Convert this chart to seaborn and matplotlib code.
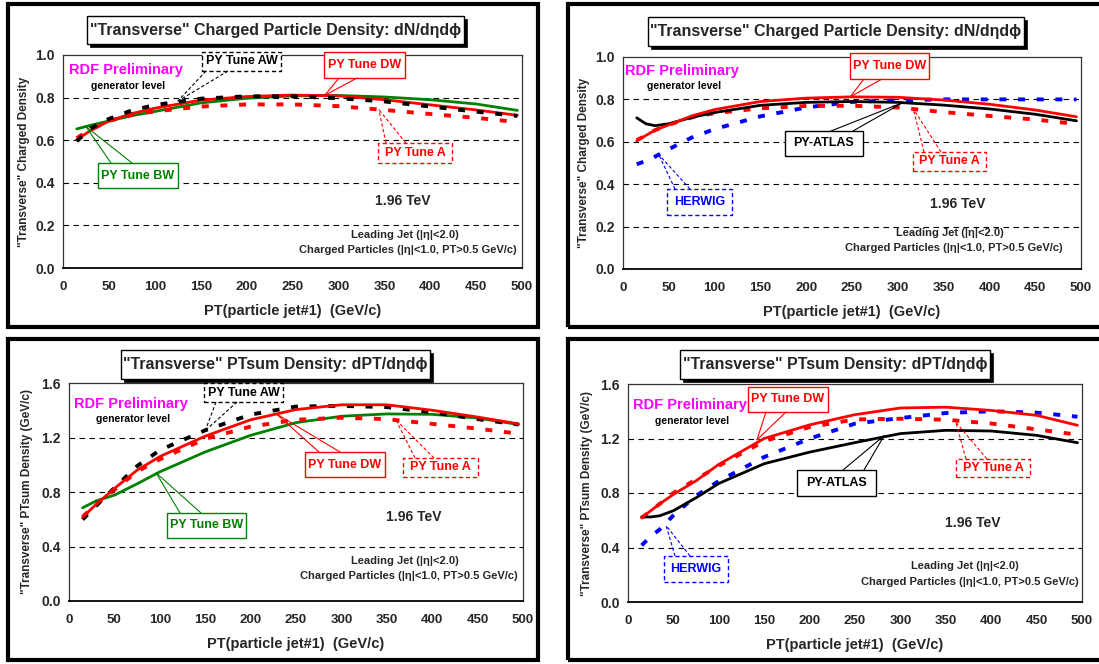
import matplotlib
matplotlib.use("Agg")
import matplotlib.pyplot as plt
import matplotlib.patches as mpatches
from matplotlib.lines import Line2D
import seaborn as sns

W, H = 1099, 664

# ===== DATA =====
# top-left: charged density, PY tunes
pt1 = [15, 30, 50, 75, 100, 150, 200, 250, 300, 350, 400, 450, 495]
tl_aw = [0.595, 0.655, 0.700, 0.740, 0.765, 0.795, 0.806, 0.806, 0.797, 0.782, 0.758, 0.734, 0.714]
tl_dw = [0.603, 0.645, 0.690, 0.725, 0.750, 0.788, 0.805, 0.812, 0.808, 0.790, 0.766, 0.742, 0.717]
tl_bw = [0.653, 0.670, 0.690, 0.715, 0.735, 0.775, 0.797, 0.808, 0.810, 0.803, 0.790, 0.770, 0.740]
tl_a = [0.610, 0.650, 0.690, 0.720, 0.735, 0.758, 0.768, 0.768, 0.760, 0.742, 0.723, 0.705, 0.685]

# top-right: charged density, DW / ATLAS / HERWIG / A
pt2 = [15, 25, 35, 50, 75, 100, 150, 200, 250, 300, 350, 400, 450, 495]
tr_dw = [0.605, 0.630, 0.655, 0.680, 0.722, 0.752, 0.790, 0.806, 0.812, 0.810, 0.797, 0.777, 0.750, 0.718]
tr_atlas = [0.713, 0.685, 0.676, 0.685, 0.715, 0.738, 0.772, 0.786, 0.790, 0.786, 0.773, 0.755, 0.730, 0.699]
tr_herwig = [0.494, 0.510, 0.530, 0.565, 0.620, 0.660, 0.720, 0.762, 0.788, 0.796, 0.800, 0.800, 0.800, 0.800]
tr_a = [0.608, 0.630, 0.655, 0.680, 0.715, 0.735, 0.758, 0.769, 0.770, 0.762, 0.740, 0.722, 0.705, 0.684]

# bottom-left: PTsum density, PY tunes
pt3 = [15, 30, 50, 75, 100, 150, 200, 250, 300, 350, 400, 450, 495]
bl_aw = [0.598, 0.700, 0.830, 0.990, 1.107, 1.253, 1.368, 1.427, 1.432, 1.423, 1.385, 1.335, 1.295]
bl_dw = [0.615, 0.710, 0.826, 0.960, 1.060, 1.210, 1.330, 1.405, 1.440, 1.440, 1.400, 1.350, 1.300]
bl_bw = [0.684, 0.735, 0.777, 0.860, 0.948, 1.094, 1.216, 1.309, 1.356, 1.373, 1.370, 1.343, 1.295]
bl_a = [0.618, 0.710, 0.815, 0.950, 1.040, 1.190, 1.280, 1.330, 1.345, 1.335, 1.300, 1.265, 1.228]

# bottom-right: PTsum density, DW / ATLAS / HERWIG / A
pt4 = [15, 25, 35, 50, 75, 100, 150, 200, 250, 300, 350, 400, 450, 495]
br_dw = [0.617, 0.670, 0.720, 0.790, 0.890, 1.010, 1.200, 1.300, 1.375, 1.424, 1.430, 1.406, 1.370, 1.297]
br_atlas = [0.624, 0.624, 0.633, 0.670, 0.765, 0.870, 1.015, 1.100, 1.170, 1.236, 1.260, 1.255, 1.223, 1.169]
br_herwig = [0.416, 0.480, 0.533, 0.636, 0.780, 0.888, 1.064, 1.199, 1.309, 1.350, 1.387, 1.400, 1.390, 1.360]
br_a = [0.617, 0.670, 0.720, 0.800, 0.900, 1.000, 1.180, 1.284, 1.340, 1.345, 1.338, 1.310, 1.267, 1.228]

xticks = [0, 50, 100, 150, 200, 250, 300, 350, 400, 450, 500]
yticks_n = [0.0, 0.2, 0.4, 0.6, 0.8, 1.0]
yticks_pt = [0.0, 0.4, 0.8, 1.2, 1.6]

title_n = '"Transverse" Charged Particle Density: dN/dηdϕ'
title_pt = '"Transverse" PTsum Density: dPT/dηdϕ'
ylab_n = '"Transverse" Charged Density'
ylab_pt = '"Transverse" PTsum Density (GeV/c)'
xlab = 'PT(particle jet#1)  (GeV/c)'

RED, GREEN, BLUE, MAG = "#ff0000", "#008000", "#0000ff", "#ff00ff"

# ===== STYLE =====
sns.set_style("white")
plt.rcParams["font.family"] = ["Liberation Sans", "DejaVu Sans"]
plt.rcParams["font.weight"] = "bold"

fig = plt.figure(figsize=(W / 100, H / 100), dpi=100)


def fx(x):
    return x / W


def fy(y):
    return 1 - y / H


def rect(x0, y0, x1, y1, ec="black", lw=1.0, ls="-", fc="white", z=5):
    r = mpatches.Rectangle((fx(x0), fy(y1)), (x1 - x0) / W, (y1 - y0) / H,
                           transform=fig.transFigure, fc=fc, ec=ec, lw=lw,
                           ls=ls, zorder=z)
    fig.add_artist(r)


def make_axes(x0, x1, ytop, ybot, ymax, yticks, ylab, ylab_x):
    ax = fig.add_axes([fx(x0), fy(ybot), (x1 - x0) / W, (ybot - ytop) / H])
    ax.set_xlim(0, 500)
    ax.set_ylim(0, ymax)
    ax.set_xticks(xticks)
    ax.set_yticks(yticks)
    ax.set_yticklabels([f"{v:.1f}" for v in yticks])
    ax.tick_params(axis="x", direction="inout", length=7, width=1, labelsize=9.5, pad=6)
    ax.tick_params(axis="y", direction="out", length=4, width=1, labelsize=10, pad=2)
    for lab in ax.get_xticklabels() + ax.get_yticklabels():
        lab.set_fontweight("bold")
    for v in yticks[1:-1]:
        ax.axhline(v, color="black", lw=0.8, ls=(0, (5, 4)), zorder=1)
    for s in ["top", "right", "left"]:
        ax.spines[s].set_color("#333333")
        ax.spines[s].set_linewidth(0.9)
    ax.spines["bottom"].set_color("black")
    ax.spines["bottom"].set_linewidth(1.3)
    ax.set_xlabel(xlab, fontsize=10.5, fontweight="bold", labelpad=8)
    ax.set_ylabel("")
    fig.text(fx(ylab_x), (fy(ytop) + fy(ybot)) / 2, ylab, rotation=90,
             ha="center", va="center", fontsize=8.5, fontweight="bold")
    return ax


def curve(ax, x, y, color, dashed=False):
    sns.lineplot(x=x, y=y, ax=ax, color=color, lw=2.8 if dashed else 2.0, zorder=3)
    line = ax.lines[-1]
    if dashed:
        line.set_dashes((1.8, 3.0))
        line.set_dash_capstyle("butt")


def callout(ax, box, label, color, ls, anchor, bases):
    x0, y0, x1, y1 = box
    rect(x0, y0, x1, y1, ec=color, lw=1.0, ls=(0, (3, 2)) if ls == "--" else "-", z=6)
    fig.text(fx((x0 + x1) / 2), fy((y0 + y1) / 2), label, ha="center", va="center",
             color=color, fontsize=9, fontweight="bold", zorder=7)
    px, py = ax.transData.transform(anchor)
    ax_f = fig.transFigure.inverted().transform((px, py))
    for bx, by in bases:
        fig.add_artist(Line2D([fx(bx), ax_f[0]], [fy(by), ax_f[1]], transform=fig.transFigure,
                              color=color, lw=0.8, ls=(0, (3, 2)) if ls == "--" else "-", zorder=6))


def title_box(x0, y0, x1, y1, text):
    rect(x0 + 3, y0 + 3, x1 + 3, y1 + 3, ec="black", fc="black", lw=0.5, z=4)
    rect(x0, y0, x1, y1, ec="black", lw=1.0, z=5)
    fig.text(fx((x0 + x1) / 2), fy((y0 + y1) / 2), text, ha="center", va="center",
             fontsize=11.5, fontweight="bold", zorder=6,
             family=["Liberation Sans", "DejaVu Sans"])


def info(rdf_xy, gen_xy, tev_xy, lj_xy, cp_xy):
    fig.text(fx(rdf_xy[0]), fy(rdf_xy[1]), "RDF Preliminary", color=MAG,
             fontsize=10.5, fontweight="bold", ha="left", va="center")
    fig.text(fx(gen_xy[0]), fy(gen_xy[1]), "generator level", color="black",
             fontsize=7.5, fontweight="bold", ha="left", va="center")
    fig.text(fx(tev_xy[0]), fy(tev_xy[1]), "1.96 TeV", fontsize=10,
             fontweight="bold", ha="center", va="center")
    fig.text(fx(lj_xy[0]), fy(lj_xy[1]), "Leading Jet (|η|<2.0)", fontsize=8,
             fontweight="bold", ha="center", va="center")
    fig.text(fx(cp_xy[0]), fy(cp_xy[1]), "Charged Particles (|η|<1.0, PT>0.5 GeV/c)",
             fontsize=8, fontweight="bold", ha="right", va="center")


# ===== outer panel frames =====
rect(8, 4, 538, 327, lw=3, fc="none", z=2)
rect(568, 4, 1110, 327, lw=3, fc="none", z=2)
rect(8, 339, 538, 660, lw=3, fc="none", z=2)
rect(568, 339, 1110, 660, lw=3, fc="none", z=2)

# ===== panel 1 =====
ax1 = make_axes(63, 522, 55, 268, 1.0, yticks_n, ylab_n, 24)
curve(ax1, pt1, tl_bw, GREEN)
curve(ax1, pt1, tl_dw, RED)
curve(ax1, pt1, tl_a, RED, dashed=True)
curve(ax1, pt1, tl_aw, "black", dashed=True)
title_box(87, 16, 464, 44, title_n)
info((69, 70), (91, 86), (403, 201), (405, 235), (517, 250))
callout(ax1, (202, 52, 281, 71), "PY Tune AW", "black", "--", (125, 0.783), [(206, 71), (228, 71)])
callout(ax1, (324, 52, 405, 78), "PY Tune DW", RED, "-", (285, 0.81), [(339, 78), (357, 78)])
callout(ax1, (378, 143, 452, 163), "PY Tune A", RED, "--", (344, 0.744), [(386, 143), (406, 143)])
callout(ax1, (98, 163, 178, 188), "PY Tune BW", GREEN, "-", (25, 0.664), [(111, 163), (132, 163)])

# ===== panel 2 =====
ax2 = make_axes(623, 1081, 57, 269, 1.0, yticks_n, ylab_n, 584)
curve(ax2, pt2, tr_herwig, BLUE, dashed=True)
curve(ax2, pt2, tr_a, RED, dashed=True)
curve(ax2, pt2, tr_atlas, "black")
curve(ax2, pt2, tr_dw, RED)
title_box(648, 17, 1024, 46, title_n)
info((625, 71), (647, 86), (958, 204), (950, 233), (1063, 248))
callout(ax2, (850, 53, 929, 79), "PY Tune DW", RED, "-", (248, 0.812), [(864, 79), (882, 79)])
callout(ax2, (785, 131, 863, 156), "PY-ATLAS", "black", "-", (306, 0.786), [(831, 131), (853, 131)])
callout(ax2, (913, 152, 986, 171), "PY Tune A", RED, "--", (317, 0.755), [(924, 152), (941, 152)])
callout(ax2, (667, 189, 732, 215), "HERWIG", BLUE, "--", (39, 0.54), [(675, 189), (690, 189)])

# ===== panel 3 =====
ax3 = make_axes(69, 523, 383, 601, 1.6, yticks_pt, ylab_pt, 27)
curve(ax3, pt3, bl_bw, GREEN)
curve(ax3, pt3, bl_a, RED, dashed=True)
curve(ax3, pt3, bl_aw, "black", dashed=True)
curve(ax3, pt3, bl_dw, RED)
title_box(121, 350, 430, 379, title_pt)
info((74, 404), (96, 419), (414, 517), (405, 561), (518, 576))
callout(ax3, (204, 383, 283, 402), "PY Tune AW", "black", "--", (150, 1.25), [(216, 402), (237, 402)])
callout(ax3, (305, 452, 385, 477), "PY Tune DW", RED, "-", (228, 1.375), [(319, 452), (340, 452)])
callout(ax3, (403, 458, 478, 477), "PY Tune A", RED, "--", (360, 1.33), [(415, 458), (434, 458)])
callout(ax3, (167, 513, 246, 538), "PY Tune BW", GREEN, "-", (96, 0.94), [(180, 513), (201, 513)])

# ===== panel 4 =====
ax4 = make_axes(628, 1082, 384, 602, 1.6, yticks_pt, ylab_pt, 587)
curve(ax4, pt4, br_herwig, BLUE, dashed=True)
curve(ax4, pt4, br_a, RED, dashed=True)
curve(ax4, pt4, br_atlas, "black")
curve(ax4, pt4, br_dw, RED)
title_box(680, 350, 990, 379, title_pt)
info((633, 405), (655, 421), (973, 523), (965, 566), (1079, 582))
callout(ax4, (748, 387, 828, 412), "PY Tune DW", RED, "-", (142, 1.19), [(766, 412), (786, 412)])
callout(ax4, (956, 459, 1030, 477), "PY Tune A", RED, "--", (361, 1.32), [(966, 459), (987, 459)])
callout(ax4, (797, 470, 876, 496), "PY-ATLAS", "black", "-", (282, 1.22), [(843, 470), (864, 470)])
callout(ax4, (664, 556, 728, 582), "HERWIG", BLUE, "--", (42, 0.56), [(675, 556), (690, 556)])

fig.savefig("out.png", dpi=100)
plt.close(fig)
